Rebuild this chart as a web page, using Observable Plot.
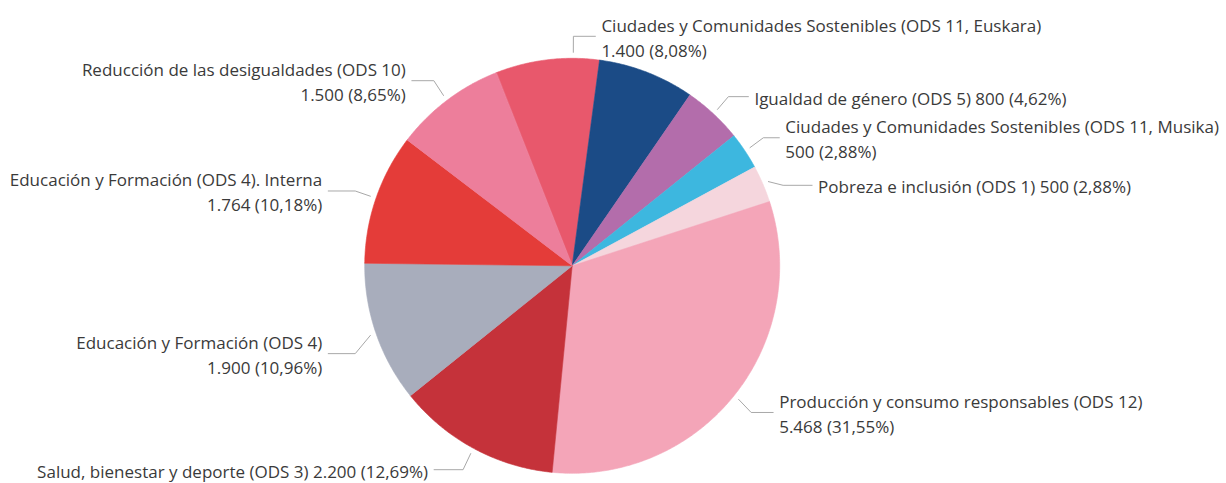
<!DOCTYPE html>
<html><head><meta charset="utf-8">
<script src="https://cdn.jsdelivr.net/npm/d3@7"></script>
<script src="https://cdn.jsdelivr.net/npm/@observablehq/plot@0.6"></script>
<style>html,body{margin:0;padding:0;background:#fff;}</style>
</head><body><div id="chart"></div>
<script>
// ---- data ----
const categories = [
  "Ciudades y Comunidades Sostenibles (ODS 11, Euskara)",
  "(sin etiqueta)",
  "Igualdad de género (ODS 5)",
  "Ciudades y Comunidades Sostenibles (ODS 11, Musika)",
  "Pobreza e inclusión (ODS 1)",
  "Producción y consumo responsables (ODS 12)",
  "Salud, bienestar y deporte (ODS 3)",
  "Educación y Formación (ODS 4)",
  "Educación y Formación (ODS 4). Interna",
  "Reducción de las desigualdades (ODS 10)"
];
const values = [1400, 1300, 800, 500, 500, 5468, 2200, 1900, 1764, 1500];
const showLabel = [true, false, true, true, true, true, true, true, true, true];
const colors = ["#e8586c", "#1b4b86", "#b36dab", "#3db7df", "#f5d6dd", "#f4a5b8", "#c5323a", "#a8adbc", "#e43c39", "#ed7e9b"];

// ---- layout (not data) ----
const W = 1226, H = 483;
const cx = 571.7, cy = 265.3, R = 207.5;
const startDeg = -21.5;
const wrap = [true, false, false, true, false, true, false, true, true, true];
const angleOverride = {0: 0.3};
const dyPx = {2: -1, 3: -1, 4: 10, 5: 3, 6: 2, 7: 13, 9: -2};
const dxPx = {2: -2, 3: -6, 4: 7, 6: -7, 7: -5, 8: -5};
const fontSize = 17, lineH = 25;

const loc = d3.formatLocale({decimal: ",", thousands: ".", grouping: [3], currency: ["", "€"]});
const fInt = loc.format(",d"), fPct = loc.format(".2%");
const total = d3.sum(values);

let acc = 0;
const slices = values.map((v, i) => {
  const a0 = startDeg + acc / total * 360; acc += v;
  const a1 = startDeg + acc / total * 360;
  return {i, a0, a1, mid: (a0 + a1) / 2};
});
const rad = d => d * Math.PI / 180;
const polar = (deg, r) => ({x: Math.sin(rad(deg)) * r, y: Math.cos(rad(deg)) * r});

const poly = [];
slices.forEach(s => {
  poly.push({k: s.i, x: 0, y: 0, c: colors[s.i]});
  const n = Math.max(2, Math.ceil((s.a1 - s.a0) / 0.5));
  for (let j = 0; j <= n; j++) {
    const p = polar(s.a0 + (s.a1 - s.a0) * j / n, 1);
    poly.push({k: s.i, x: p.x, y: p.y, c: colors[s.i]});
  }
});

const leaders = [], labels = [];
slices.forEach(s => {
  if (!showLabel[s.i]) return;
  const a = angleOverride[s.i] ?? s.mid;
  const side = Math.sin(rad(a)) >= 0 ? 1 : -1;
  const p0 = polar(a, 1 + 6 / R), p1 = polar(a, 1 + 22 / R);
  const dy = (dyPx[s.i] || 0) / R;
  const dx = (dxPx[s.i] || 0) / R;
  const ey = p1.y - dy;
  const p2 = {x: p1.x + side * 22 / R + dx, y: ey};
  leaders.push({k: s.i, x: p0.x, y: p0.y}, {k: s.i, x: p1.x, y: ey}, {k: s.i, x: p2.x, y: ey});
  const txt = categories[s.i] + (wrap[s.i] ? "\n" : " ") + fInt(values[s.i]) + " (" + fPct(values[s.i] / total) + ")";
  labels.push({x: p2.x + side * 6 / R, y: ey, side, text: txt});
});

const chart = Plot.plot({
  width: W, height: H, margin: 0,
  style: {background: "#fff", fontFamily: "'Segoe UI', 'Open Sans', 'Noto Sans', sans-serif"},
  x: {domain: [-1, 1], range: [cx - R, cx + R], axis: null},
  y: {domain: [-1, 1], range: [cy + R, cy - R], axis: null},
  marks: [
    Plot.line(poly, {x: "x", y: "y", z: "k", fill: "c", stroke: "c", strokeWidth: 0.6, curve: "linear-closed"}),
    Plot.line(leaders, {x: "x", y: "y", z: "k", stroke: "#a8a8a8", strokeWidth: 1}),
    Plot.text(labels.filter(d => d.side > 0), {x: "x", y: "y", text: "text", textAnchor: "start", lineAnchor: "middle", fontSize, lineHeight: lineH / fontSize, fill: "#3a3a3a"}),
    Plot.text(labels.filter(d => d.side < 0), {x: "x", y: "y", text: "text", textAnchor: "end", lineAnchor: "middle", fontSize, lineHeight: lineH / fontSize, fill: "#3a3a3a"})
  ]
});
document.getElementById("chart").appendChild(chart);
</script>
</body></html>
